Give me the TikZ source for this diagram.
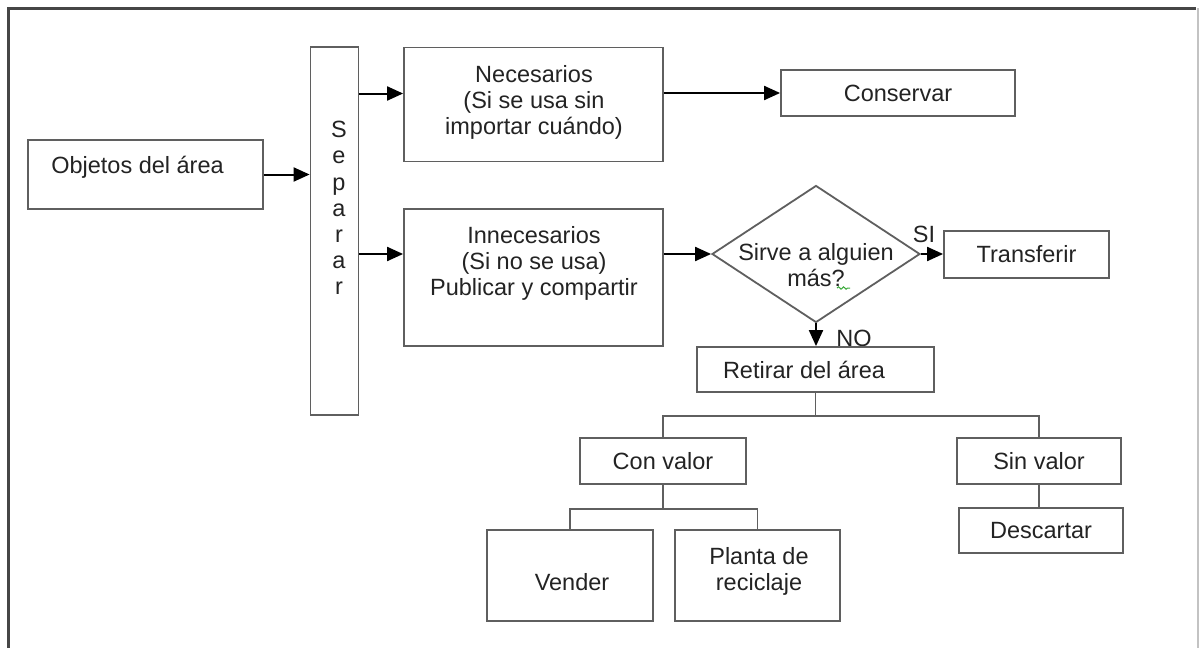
\documentclass[tikz,border=0pt]{standalone}
\usepackage{fontspec}
\setmainfont{Liberation Sans}
\usetikzlibrary{shapes.geometric,arrows.meta,decorations.pathmorphing}
\definecolor{framedark}{RGB}{70,70,70}
\definecolor{framelight}{RGB}{195,195,195}
\definecolor{boxline}{RGB}{95,95,95}
\definecolor{ink}{RGB}{35,35,35}
\definecolor{spell}{RGB}{60,170,60}
\begin{document}
\begin{tikzpicture}[x=0.5pt,y=-0.5pt,
  font=\fontsize{11.75}{13.1}\selectfont,
  box/.style={draw=boxline,line width=0.9pt,inner sep=0pt,align=center,text=ink},
  txt/.style={inner sep=0pt,align=center,text=ink},
  arr/.style={draw=black,line width=1pt,-{Triangle[length=8pt,width=7pt]}},
  link/.style={draw=boxline,line width=0.9pt},
]
\useasboundingbox (0,0) rectangle (1200,648);
\fill[white] (0,0) rectangle (1200,648);

% outer frame, open at the bottom
\draw[framedark,line width=1.5pt] (8,660) -- (8,8) -- (1196,8);
\draw[framelight,line width=0.6pt] (1198,8) -- (1198,660);

% left column
\node[box,minimum width=117.5pt,minimum height=34.5pt] (obj) at (145.5,174.5) {};
\node[txt] (objT) at (137.5,167.5) {Objetos del área};

\node[box,minimum width=24pt,minimum height=184pt] (sep) at (334.5,231) {};
\node[txt] (sepT) at (339,208) {S\\e\\p\\a\\r\\a\\r};

% the two groups
\node[box,minimum width=129.5pt,minimum height=57pt] (nec) at (533.5,104.5) {};
\node[txt] (necT) at (534,102.5) {Necesarios\\(Si se usa sin\\importar cuándo)};

\node[box,minimum width=129.5pt,minimum height=68.5pt] (inn) at (533.5,277.5) {};
\node[txt] (innT) at (534,263.5) {Innecesarios\\(Si no se usa)\\Publicar y compartir};

\node[box,minimum width=117pt,minimum height=23pt] (cons) at (898,93) {Conservar};

% decision
\node[draw=boxline,line width=0.9pt,shape=diamond,inner sep=0pt,
      minimum width=104pt,minimum height=68.5pt] (dia) at (816,254) {};
\node[txt] (diaT) at (816,265) {Sirve a alguien\\más?};
\draw[spell,line width=0.5pt,decorate,
      decoration={snake,amplitude=0.6pt,segment length=2.5pt}] (837,288) -- (850,288);

\node[box,minimum width=82.5pt,minimum height=23.5pt] (trans) at (1026.5,254.5) {Transferir};
\node[txt] (si) at (924,234) {SI};
\node[txt] (no) at (854,338) {NO};

\node[box,minimum width=118.5pt,minimum height=22.5pt] (ret) at (815.5,369.5) {};
\node[txt] (retT) at (804,370) {Retirar del área};

% value tree
\node[box,minimum width=83pt,minimum height=23pt] (con) at (663,461) {Con valor};
\node[box,minimum width=82pt,minimum height=23pt] (sin) at (1039,461) {Sin valor};
\node[box,minimum width=82pt,minimum height=22.5pt] (desc) at (1041,530.5) {Descartar};

\node[box,minimum width=83pt,minimum height=45.5pt] (ven) at (570,575.5) {};
\node[txt] (venT) at (572,582) {Vender};
\node[box,minimum width=82.5pt,minimum height=45.5pt] (pla) at (757.5,575.5) {};
\node[txt] (plaT) at (759,571.5) {Planta de\\reciclaje};

% arrows
\coordinate (necIn) at ([yshift=5.5pt]nec.west);
\draw[arr] (obj.east) -- (sep.west |- obj.east);
\draw[arr] (sep.east |- necIn) -- (necIn);
\draw[arr] (nec.east |- cons.west) -- (cons.west);
\draw[arr] (sep.east |- dia.west) -- (inn.west |- dia.west);
\draw[arr] (inn.east |- dia.west) -- (dia.west);
\draw[arr] (dia.east) -- (trans.west |- dia.east);
\draw[arr] (dia.south) -- (ret.north -| dia.south);

% tree links
\draw[link] (ret.south) -- ++(0,23) -| (con.north);
\draw[link] (ret.south) -- ++(0,23) -| (sin.north);
\draw[link] (con.south) -- ++(0,24) -| (ven.north);
\draw[link] (con.south) -- ++(0,24) -| (pla.north);
\draw[link] (sin.south) -- (sin.south |- desc.north);
\end{tikzpicture}
\end{document}
